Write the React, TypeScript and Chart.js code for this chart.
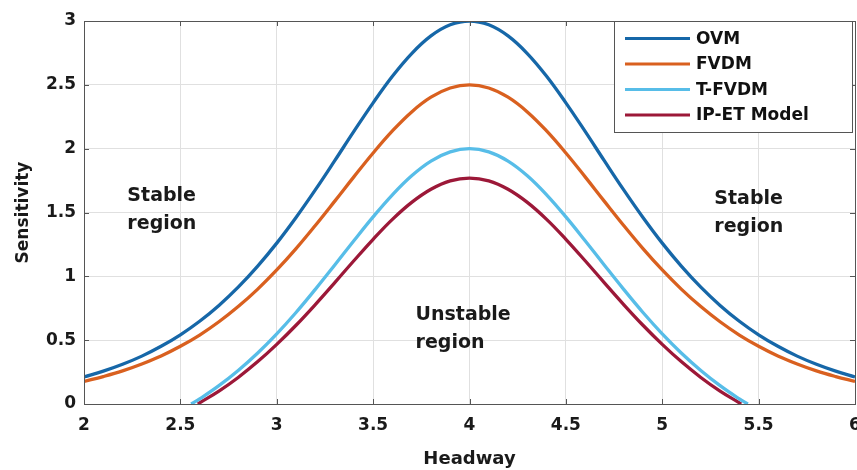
import React, { useEffect, useRef } from "react";
import { Chart, registerables } from "chart.js";

Chart.register(...registerables);

// Headway grid (x values)
const headway = [
  2.0, 2.1, 2.2, 2.3, 2.4, 2.5, 2.6, 2.7, 2.8, 2.9, 3.0, 3.1, 3.2, 3.3, 3.4, 3.5, 3.6, 3.7, 3.8, 3.9,
  4.0, 4.1, 4.2, 4.3, 4.4, 4.5, 4.6, 4.7, 4.8, 4.9, 5.0, 5.1, 5.2, 5.3, 5.4, 5.5, 5.6, 5.7, 5.8, 5.9, 6.0,
];
const ovm = [
  0.212, 0.257, 0.311, 0.375, 0.452, 0.542, 0.648, 0.772, 0.915, 1.078, 1.26, 1.461, 1.677, 1.904, 2.135, 2.359, 2.567, 2.745, 2.883, 2.97,
  3.0, 2.97, 2.883, 2.745, 2.567, 2.359, 2.135, 1.904, 1.677, 1.461, 1.26, 1.078, 0.915, 0.772, 0.648, 0.542, 0.452, 0.375, 0.311, 0.257, 0.212,
];
const fvdm = [
  0.177, 0.215, 0.259, 0.313, 0.376, 0.452, 0.54, 0.644, 0.763, 0.898, 1.05, 1.217, 1.398, 1.587, 1.779, 1.966, 2.139, 2.288, 2.403, 2.475,
  2.5, 2.475, 2.403, 2.288, 2.139, 1.966, 1.779, 1.587, 1.398, 1.217, 1.05, 0.898, 0.763, 0.644, 0.54, 0.452, 0.376, 0.313, 0.259, 0.215, 0.177,
];
const tHeadway = [
  2.556, 2.6, 2.7, 2.8, 2.9, 3.0, 3.1, 3.2, 3.3, 3.4, 3.5, 3.6, 3.7, 3.8, 3.9, 4.0,
  4.1, 4.2, 4.3, 4.4, 4.5, 4.6, 4.7, 4.8, 4.9, 5.0, 5.1, 5.2, 5.3, 5.4, 5.444,
];
const tfvdm = [
  0, 0.04, 0.144, 0.263, 0.398, 0.55, 0.717, 0.898, 1.087, 1.279, 1.466, 1.639, 1.788, 1.903, 1.975, 2.0,
  1.975, 1.903, 1.788, 1.639, 1.466, 1.279, 1.087, 0.898, 0.717, 0.55, 0.398, 0.263, 0.144, 0.04, 0,
];
const ipHeadway = [
  2.59, 2.6, 2.7, 2.8, 2.9, 3.0, 3.1, 3.2, 3.3, 3.4, 3.5, 3.6, 3.7, 3.8, 3.9, 4.0,
  4.1, 4.2, 4.3, 4.4, 4.5, 4.6, 4.7, 4.8, 4.9, 5.0, 5.1, 5.2, 5.3, 5.4, 5.41,
];
const ipet = [
  0, 0.009, 0.101, 0.208, 0.33, 0.467, 0.617, 0.779, 0.949, 1.122, 1.29, 1.446, 1.579, 1.682, 1.748, 1.77,
  1.748, 1.682, 1.579, 1.446, 1.29, 1.122, 0.949, 0.779, 0.617, 0.467, 0.33, 0.208, 0.101, 0.009, 0,
];

const seriesLabels = ["OVM", "FVDM", "T-FVDM", "IP-ET Model"];
const seriesColors = ["#1667A8", "#D9601F", "#57BDE8", "#9C1838"];
const xTicks = [2, 2.5, 3, 3.5, 4, 4.5, 5, 5.5, 6];
const yTicks = [0, 0.5, 1, 1.5, 2, 2.5, 3];
const annotations = [
  { lines: ["Stable", "region"], x: 2.225, y: 1.59 },
  { lines: ["Unstable", "region"], x: 3.72, y: 0.66 },
  { lines: ["Stable", "region"], x: 5.27, y: 1.57 },
];

const FONT = "'DejaVu Sans', sans-serif";

const frameAndTextPlugin = {
  id: "frameAndText",
  afterDatasetsDraw(chart: any) {
    const { ctx, chartArea: a, scales } = chart;
    ctx.save();
    ctx.strokeStyle = "#555";
    ctx.lineWidth = 1;
    ctx.strokeRect(Math.round(a.left) + 0.5, Math.round(a.top) + 0.5, Math.round(a.right - a.left), Math.round(a.bottom - a.top));
    ctx.beginPath();
    xTicks.forEach((t) => {
      const px = Math.round(scales.x.getPixelForValue(t)) + 0.5;
      ctx.moveTo(px, a.bottom);
      ctx.lineTo(px, a.bottom - 5);
      ctx.moveTo(px, a.top);
      ctx.lineTo(px, a.top + 5);
    });
    yTicks.forEach((t) => {
      const py = Math.round(scales.y.getPixelForValue(t)) + 0.5;
      ctx.moveTo(a.left, py);
      ctx.lineTo(a.left + 5, py);
      ctx.moveTo(a.right, py);
      ctx.lineTo(a.right - 5, py);
    });
    ctx.stroke();
    ctx.restore();
  },
  afterDraw(chart: any) {
    const { ctx, chartArea: a, scales } = chart;
    ctx.save();
    // annotations
    ctx.fillStyle = "#1a1a1a";
    ctx.font = `bold 19px ${FONT}`;
    ctx.textAlign = "left";
    ctx.textBaseline = "alphabetic";
    annotations.forEach((an) => {
      const px = scales.x.getPixelForValue(an.x);
      const py = scales.y.getPixelForValue(an.y);
      an.lines.forEach((ln, i) => ctx.fillText(ln, px, py + i * 28));
    });
    // legend
    const bx = 614, by = Math.round(a.top) + 0.5, bw = 238, bh = 111;
    ctx.fillStyle = "#ffffff";
    ctx.fillRect(bx, by, bw, bh);
    ctx.strokeStyle = "#555";
    ctx.lineWidth = 1;
    ctx.strokeRect(bx + 0.5, by, bw, bh);
    ctx.font = `bold 17px ${FONT}`;
    ctx.textBaseline = "middle";
    chart.data.datasets.forEach((ds: any, i: number) => {
      const yy = by + 17 + i * 25.5;
      ctx.strokeStyle = ds.borderColor;
      ctx.lineWidth = 3;
      ctx.beginPath();
      ctx.moveTo(bx + 11, yy);
      ctx.lineTo(bx + 76, yy);
      ctx.stroke();
      ctx.fillStyle = "#111";
      ctx.fillText(ds.label, bx + 82, yy + 1);
    });
    ctx.restore();
  },
};

export default function App() {
  const ref = useRef<HTMLCanvasElement>(null);
  useEffect(() => {
    document.body.style.margin = "0";
    const xsList = [headway, headway, tHeadway, ipHeadway];
    const ysList = [ovm, fvdm, tfvdm, ipet];
    const chart = new Chart(ref.current as HTMLCanvasElement, {
      type: "line",
      data: {
        datasets: seriesLabels.map((label, k) => ({
          label,
          data: xsList[k].map((x, i) => ({ x, y: ysList[k][i] })),
          borderColor: seriesColors[k],
          backgroundColor: seriesColors[k],
          borderWidth: 3.3,
          pointRadius: 0,
          tension: 0.4,
          fill: false,
        })),
      },
      options: {
        animation: false,
        responsive: false,
        devicePixelRatio: 1,
        layout: { padding: { top: 21, right: 2, left: 0, bottom: 0 } },
        plugins: { legend: { display: false }, tooltip: { enabled: false } },
        scales: {
          x: {
            type: "linear",
            min: 2,
            max: 6,
            afterFit: (s: any) => {
              s.height = 66;
              s.paddingLeft = 0;
              s.paddingRight = 0;
            },
            afterBuildTicks: (s: any) => {
              s.ticks = xTicks.map((v) => ({ value: v }));
            },
            ticks: {
              padding: 11,
              color: "#1a1a1a",
              font: { family: FONT, weight: "bold", size: 17 },
              maxRotation: 0,
              callback: (v: any) => String(v),
            },
            grid: { color: "#e0e0e0", drawTicks: false },
            border: { display: false },
            title: {
              display: true,
              text: "Headway",
              color: "#1a1a1a",
              font: { family: FONT, weight: "bold", size: 18 },
              padding: { top: 2, bottom: 0 },
            },
          },
          y: {
            type: "linear",
            min: 0,
            max: 3,
            afterFit: (s: any) => {
              s.width = 84;
              s.paddingTop = 0;
              s.paddingBottom = 0;
            },
            afterBuildTicks: (s: any) => {
              s.ticks = yTicks.map((v) => ({ value: v }));
            },
            ticks: {
              padding: 8,
              color: "#1a1a1a",
              font: { family: FONT, weight: "bold", size: 17 },
              callback: (v: any) => String(v),
            },
            grid: { color: "#e0e0e0", drawTicks: false },
            border: { display: false },
            title: {
              display: true,
              text: "Sensitivity",
              color: "#1a1a1a",
              font: { family: FONT, weight: "bold", size: 17 },
              padding: { top: 13, bottom: 0 },
            },
          },
        },
      },
      plugins: [frameAndTextPlugin],
    });
    return () => chart.destroy();
  }, []);
  return <canvas ref={ref} width={857} height={470} style={{ display: "block" }} />;
}
